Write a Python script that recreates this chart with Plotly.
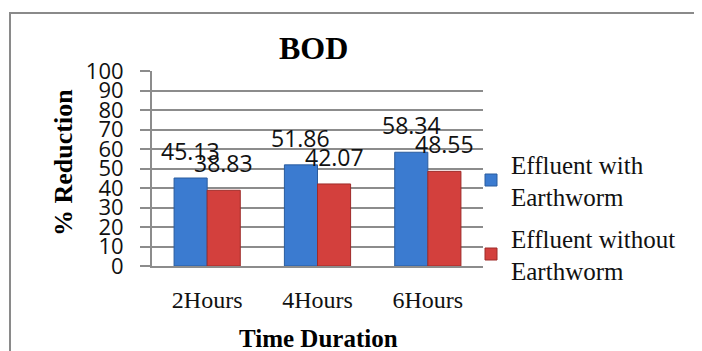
import plotly.graph_objects as go

categories = ["2Hours", "4Hours", "6Hours"]
with_worm = [45.13, 51.86, 58.34]
without_worm = [38.83, 42.07, 48.55]
series_names = ["Effluent with<br>Earthworm", "Effluent without<br>Earthworm"]
y_ticks = list(range(0, 101, 10))

OFF = 8  # page body margin
W, H = 702 - OFF, 351 - OFF
# plot area on screen: x 152..483, y 71..266
L, R, T, B = 152 - OFF, 702 - 483, 71 - OFF, 351 - 266
pw, ph = W - L - R, H - T - B

def px(x):
    return (x - OFF - L) / pw

def py(y):
    return (H - B - (y - OFF)) / ph

blue = "#3B7BD0"
red = "#D3403D"
label_font = dict(family="Open Sans", size=23, color="#111")

fig = go.Figure()
fig.add_trace(go.Bar(x=categories, y=with_worm, name=series_names[0], legendgroup="g1",
                     marker=dict(color=blue, line=dict(color="#2A5C9E", width=1)),
                     cliponaxis=False))
fig.add_trace(go.Bar(x=categories, y=without_worm, name=series_names[1], legendgroup="g2",
                     marker=dict(color=red, line=dict(color="#9E2B29", width=1)),
                     cliponaxis=False))

bar_half = pw / 3 * 0.6 / 4
for vals, sh in ((with_worm, -bar_half), (without_worm, bar_half)):
    for c, v in zip(categories, vals):
        fig.add_annotation(x=c, y=v, xref="x", yref="y", text=f"{v:.2f}",
                           showarrow=False, xshift=sh, yshift=9,
                           xanchor="center", yanchor="bottom", font=label_font)

fig.update_layout(
    width=W, height=H,
    margin=dict(l=L, r=R, t=T, b=B, autoexpand=False),
    paper_bgcolor="white", plot_bgcolor="white",
    barmode="group", bargap=0.4, bargroupgap=0,
    showlegend=True,
    legend=dict(x=px(471), y=py(141), xanchor="left", yanchor="top",
                font=dict(family="Liberation Serif", size=25, color="#111"),
                tracegroupgap=6, itemwidth=30, bgcolor="rgba(0,0,0,0)"),
)
fig.update_yaxes(range=[0, 100], tickvals=y_ticks, ticktext=[str(t) for t in y_ticks],
                 showgrid=True, gridcolor="#8c8c8c", gridwidth=2,
                 showline=True, linecolor="#8c8c8c", linewidth=2,
                 ticks="outside", ticklen=10, tickcolor="#8c8c8c", tickwidth=2,
                 ticklabelstandoff=12,
                 tickfont=dict(family="Open Sans", size=22, color="#111"),
                 zeroline=False)
fig.update_xaxes(showline=True, linecolor="#8c8c8c", linewidth=2, ticks="",
                 ticklabelstandoff=11,
                 tickfont=dict(family="Liberation Serif", size=24, color="#111"))

fig.add_annotation(text="<b>BOD</b>", x=px(313), y=py(48), xref="paper", yref="paper",
                   xanchor="center", yanchor="middle", showarrow=False,
                   font=dict(family="Liberation Serif", size=32, color="#000"))
fig.add_annotation(text="<b>% Reduction</b>", x=px(63), y=py(163), xref="paper", yref="paper",
                   xanchor="center", yanchor="middle", showarrow=False, textangle=-90,
                   font=dict(family="Liberation Serif", size=26, color="#000"))
fig.add_annotation(text="<b>Time Duration</b>", x=px(318), y=py(338), xref="paper", yref="paper",
                   xanchor="center", yanchor="middle", showarrow=False,
                   font=dict(family="Liberation Serif", size=25, color="#000"))

fig.add_shape(type="rect", xref="paper", yref="paper",
              x0=px(10), x1=px(720), y0=py(380), y1=py(13),
              line=dict(color="#8a8a8a", width=2), layer="below")

fig.write_html("out.html")
